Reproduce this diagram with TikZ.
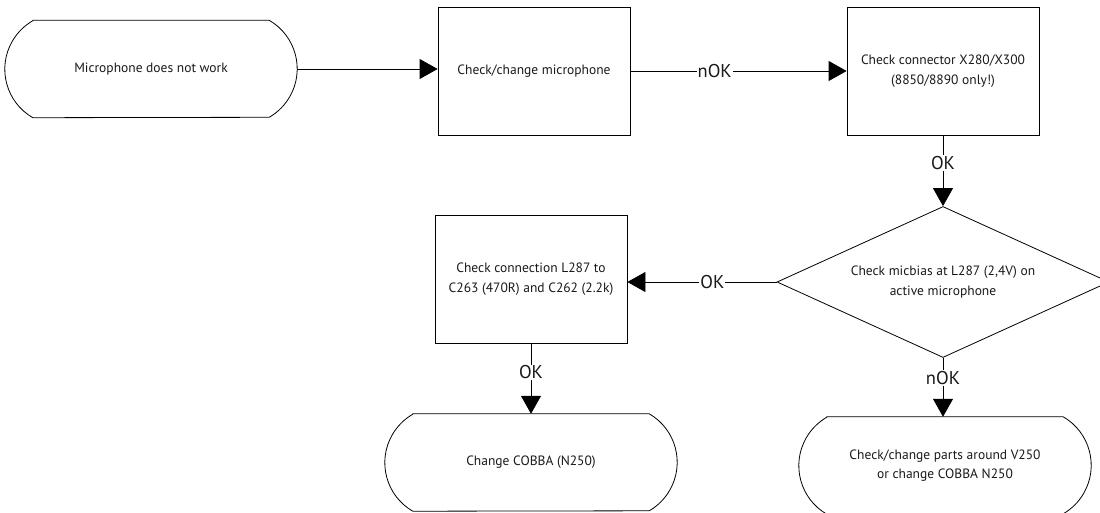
\documentclass[tikz,border=0pt]{standalone}
\usepackage{fontspec}
\setmainfont{PT Sans}
\usetikzlibrary{shapes.geometric,arrows.meta,calc}
\begin{document}
\begin{tikzpicture}[x=1pt,y=-1pt,
  every node/.style={font=\fontsize{13.5}{19.5}\selectfont, text=black!90},
  box/.style={draw, line width=0.8pt, minimum width=192pt, minimum height=128pt,
    align=center, inner sep=0pt},
  terminal/.style={minimum width=292pt, minimum height=97pt, align=center, inner sep=0pt},
  decision/.style={draw, diamond, line width=0.8pt, minimum width=332pt,
    minimum height=151pt, shape aspect=2.2, align=center, inner sep=0pt},
  flow/.style={line width=0.8pt, -{Triangle[length=18pt,width=20pt]}},
  tag/.style={fill=white, inner sep=1pt, font=\fontsize{18.5}{20}\selectfont}]
\useasboundingbox (0,0) rectangle (1100,512);

% process steps
\node[terminal] (t1) at (151,69) {Microphone does not work};
\node[box] (b1) at (534,71) {Check/change microphone};
\node[box] (b2) at (943,71) {Check connector X280/X300\\(8850/8890 only!)};
\node[decision] (d) at (943,282) {Check micbias at L287 (2,4V) on\\active microphone};
\node[box] (b3) at (531,279) {Check connection L287 to\\C263 (470R) and C262 (2.2k)};
\node[terminal] (t2) at (531,462.5) {Change COBBA (N250)};
\node[terminal] (t3) at (945,465.5) {Check/change parts around V250\\or change COBBA N250};

% start/end outlines: straight top and bottom, shallow circular ends
\foreach \n in {t1,t2,t3} {
  \draw[line width=0.8pt] ($(\n.north west)+(28pt,0)$) -- ($(\n.north east)+(-28pt,0)$)
    arc[start angle=60,end angle=-60,radius=56pt]
    -- ($(\n.south west)+(28pt,0)$)
    arc[start angle=240,end angle=120,radius=56pt] -- cycle;
}

% connectors
\draw[flow] (t1.east) -- (t1.east -| b1.west);
\draw[flow] (b1.east) -- node[tag, pos=0.39] {nOK} (b2.west);
\draw[flow] (b2.south) -- node[tag, pos=0.39] {OK} (d.north);
\draw[flow] (d.west) -- node[tag, pos=0.43] {OK} (d.west -| b3.east);
\draw[flow] (b3.south) -- node[tag, pos=0.41] {OK} (t2.north);
\draw[flow] (d.south) -- node[tag, pos=0.34] {nOK} (d.south |- t3.north);
\end{tikzpicture}
\end{document}
